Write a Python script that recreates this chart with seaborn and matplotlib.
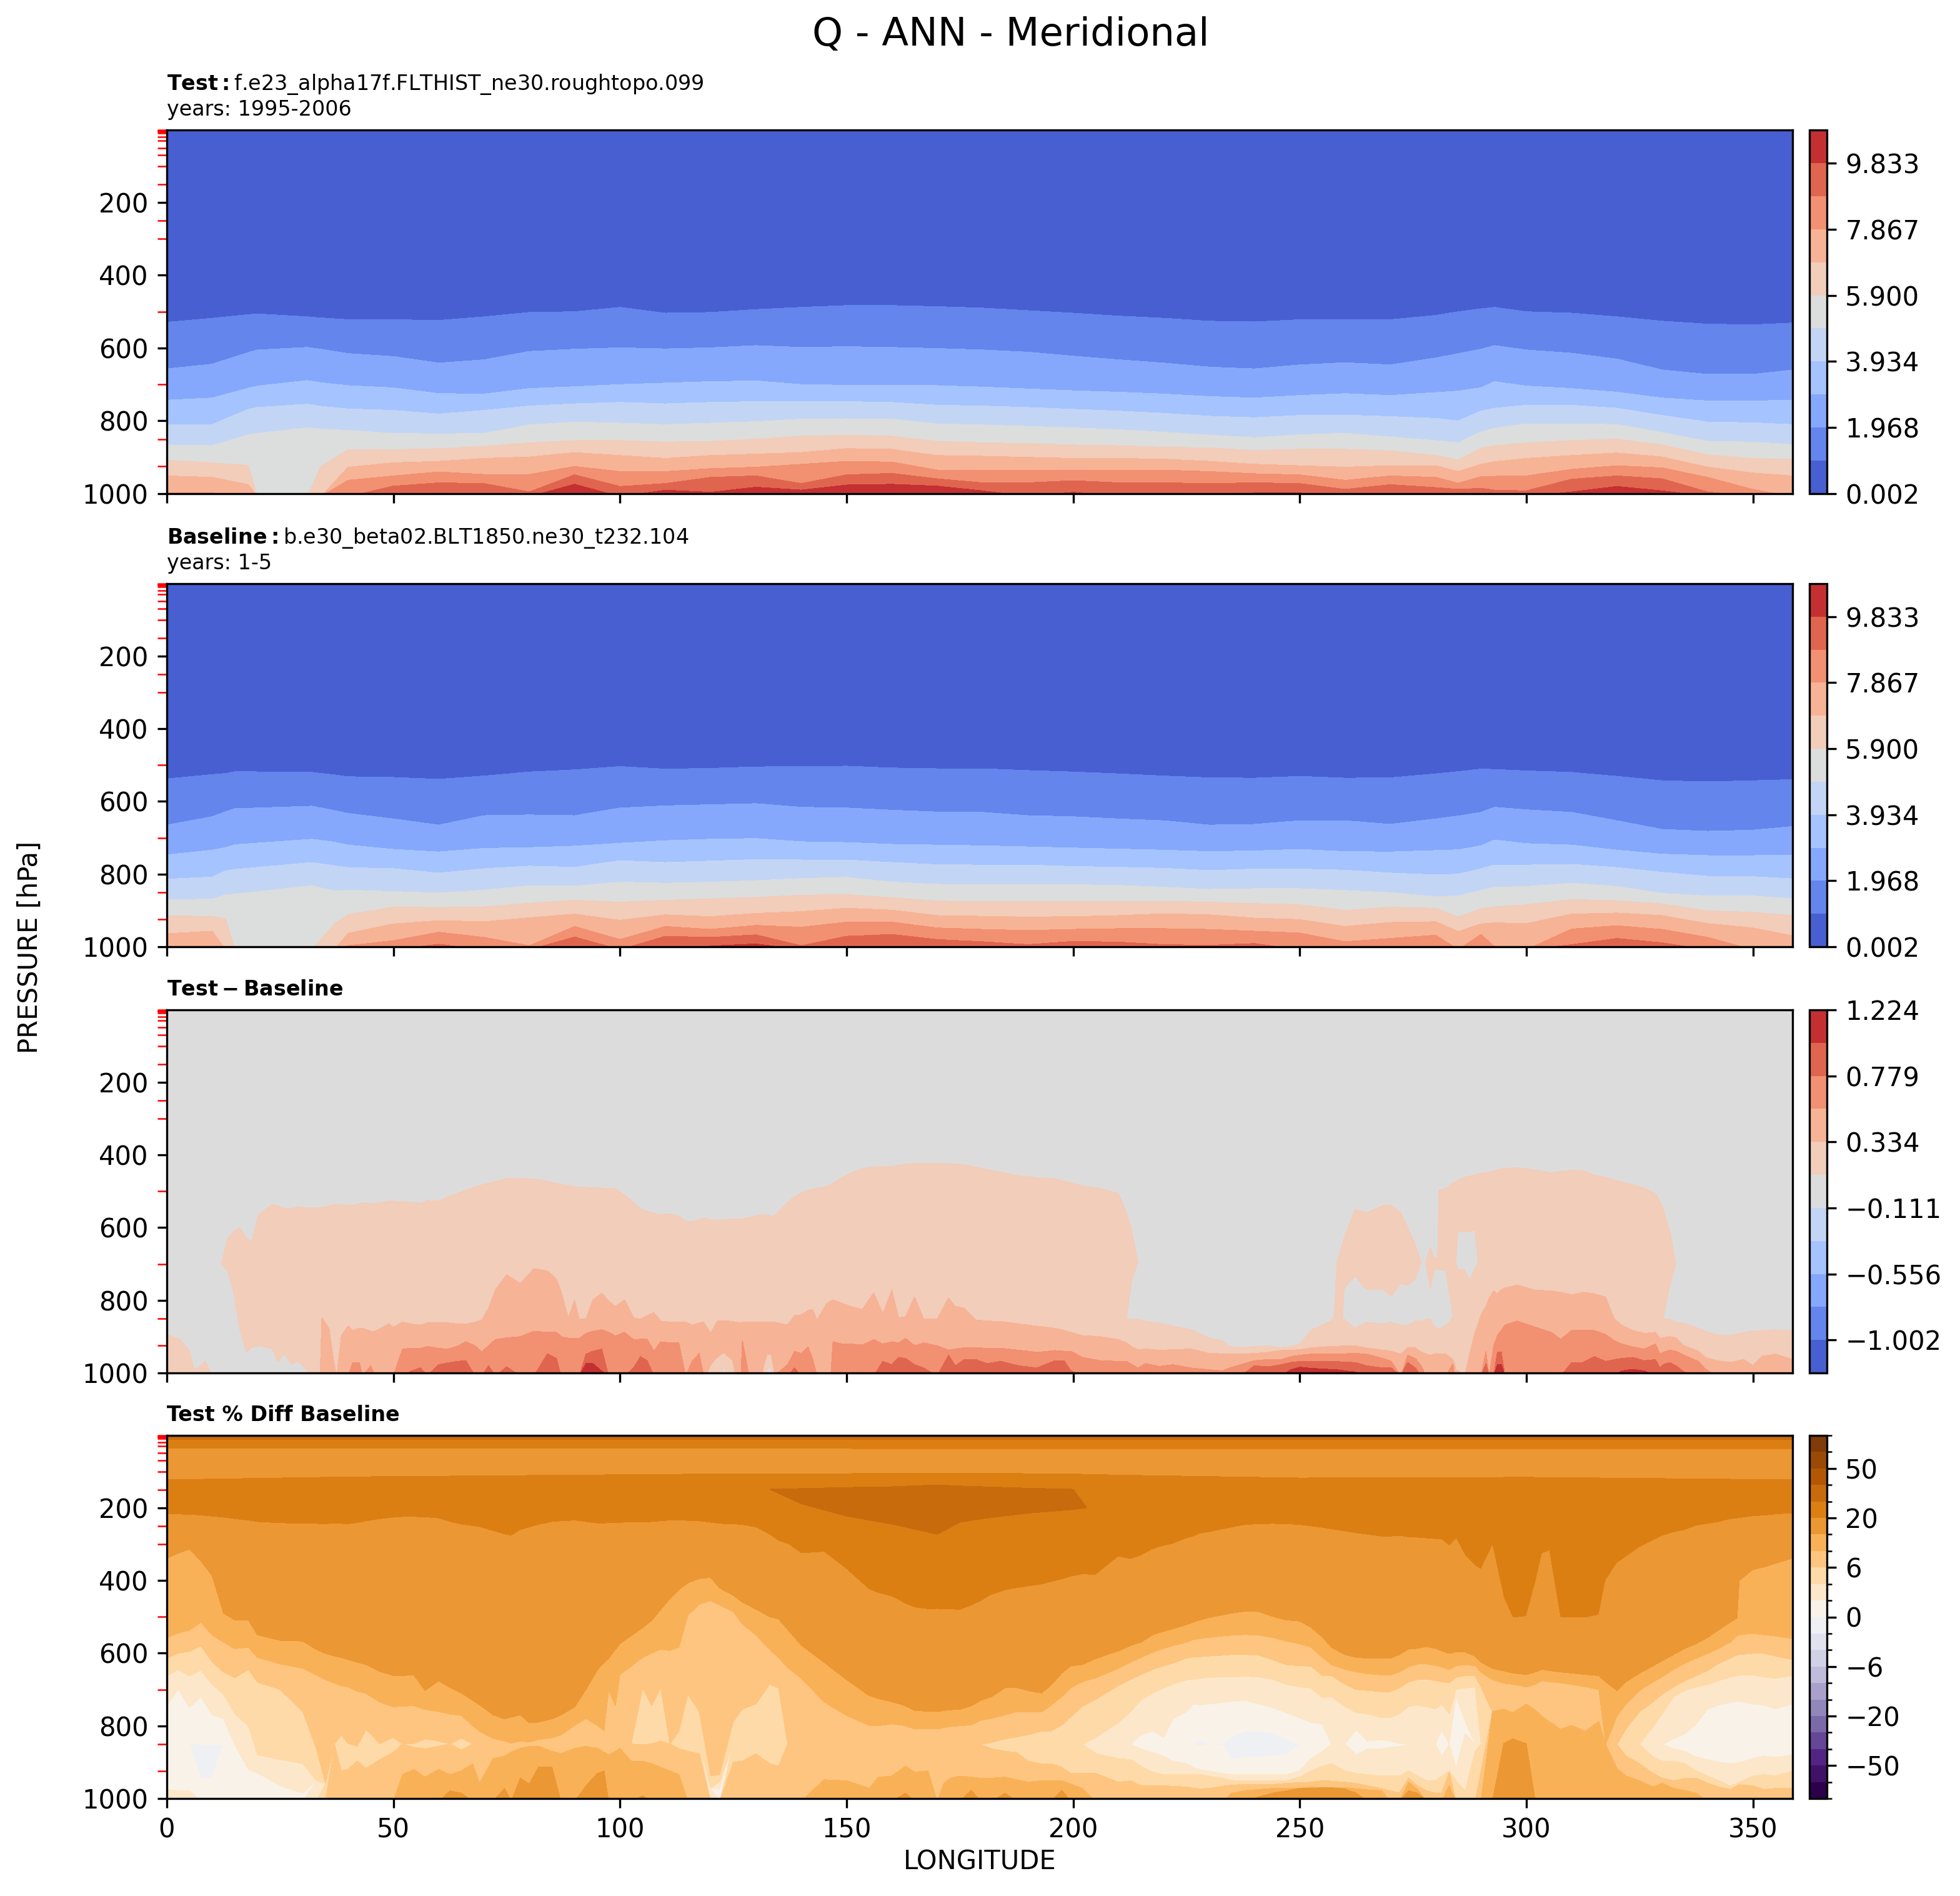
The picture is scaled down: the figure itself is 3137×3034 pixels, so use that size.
import numpy as np
import matplotlib
matplotlib.use("Agg")
import matplotlib.pyplot as plt
from matplotlib.colors import BoundaryNorm
import seaborn as sns

G = 1008  # isoline lies below the 1000 hPa ground
PLEVS = [1000, 925, 850, 700, 500, 300, 250, 200, 150, 100, 70, 50, 30, 20, 10, 7, 5, 3, 2, 1]
XTICKS = [0, 50, 100, 150, 200, 250, 300, 350]
YTICKS = [200, 400, 600, 800, 1000]

Q_LEVELS = [0.002, 0.985, 1.968, 2.951, 3.934, 4.917, 5.900, 6.883, 7.867, 8.850, 9.833, 10.816]
Q_TICK_LABELS = ["0.002", "1.968", "3.934", "5.900", "7.867", "9.833"]
DIFF_LEVELS = [-1.224, -1.002, -0.779, -0.556, -0.334, -0.111, 0.111, 0.334, 0.556, 0.779, 1.002, 1.224]
DIFF_TICK_LABELS = ["\u22121.002", "\u22120.556", "\u22120.111", "0.334", "0.779", "1.224"]
PCT_LEVELS = [-100, -75, -50, -40, -30, -20, -10, -8, -6, -4, -2, 0, 2, 4, 6, 8, 10, 20, 30, 40, 50, 75, 100]
PCT_MAJOR = [-50, -20, -6, 0, 6, 20, 50]

# ---- Test panel: pressure (hPa) where Q crosses each contour level
TEST_LON = [0, 10, 18, 20, 31, 34, *range(40, 290, 10), 285, 290, 293, *range(300, 360, 10), 358.75]
TEST_ISO = [
 [529,518,508,506,514,517,522,522,524,514,502,500,488,504,502,494,488,483,483,486,490,497,504,512,518,526,528,522,522,522,510,500,492,488,500,504,514,526,534,536,531],
 [657,644,612,605,598,603,615,623,641,632,609,603,599,602,599,593,598,596,598,601,605,611,622,632,641,652,657,646,640,646,627,615,603,593,605,614,630,660,672,672,660],
 [743,737,710,704,689,695,703,709,725,726,711,706,700,696,692,690,700,702,702,703,707,712,717,721,726,733,737,730,725,730,722,718,709,692,704,711,721,737,745,745,743],
 [810,810,768,763,754,760,767,771,781,771,759,753,749,753,749,747,747,747,749,757,759,763,768,773,779,787,791,785,784,788,793,800,773,765,757,757,765,785,803,805,810],
 [866,868,838,834,819,822,826,834,836,834,811,803,806,810,806,802,795,794,795,808,811,815,819,824,831,839,846,838,834,844,854,860,830,820,808,808,810,832,856,858,865],
 [908,915,922,G,G,925,879,879,876,870,860,854,854,858,856,850,842,839,842,856,860,862,866,868,872,874,881,878,878,882,895,907,875,868,860,854,850,866,893,903,905],
 [951,955,975,G,G,G,927,915,911,903,899,887,895,903,895,891,887,876,878,895,897,900,903,903,905,911,919,923,927,923,923,939,919,912,903,895,888,899,927,943,951],
 [998,998,G,G,G,G,963,951,940,947,947,925,939,939,931,927,919,911,913,935,935,935,935,935,935,939,945,948,963,951,955,971,953,952,951,933,923,929,955,988,G],
 [G,G,G,G,G,G,G,979,970,972,995,948,980,972,955,951,972,948,944,959,970,970,964,970,970,972,970,972,988,975,983,988,985,990,992,960,951,959,995,G,G],
 [G,G,G,G,G,G,G,G,G,G,G,974,G,990,996,982,990,976,974,979,992,G,996,G,G,G,998,998,G,G,G,G,G,G,G,995,980,992,G,G,G],
]

# ---- Baseline panel
BASE_LON = [0, 10, 13, 15, 32, 37, *range(40, 290, 10), 285, 290, 293, *range(300, 360, 10), 358.75]
BASE_ISO = [
 [538,526,523,518,520,527,532,534,539,530,519,513,504,511,509,505,504,503,508,510,510,515,519,524,530,535,536,531,536,535,524,518,511,512,516,520,531,543,546,543,540],
 [665,642,628,620,613,625,633,648,665,639,637,639,618,612,609,606,616,618,624,629,630,639,642,648,653,665,663,653,653,663,648,640,630,616,623,630,653,677,682,679,669],
 [747,734,727,719,704,712,720,732,739,729,727,723,715,708,704,702,711,713,718,720,722,725,728,731,734,738,736,732,738,739,735,733,722,706,716,720,734,745,749,749,748],
 [814,808,791,787,768,777,782,785,797,785,778,781,763,768,764,760,761,761,768,774,775,775,779,781,784,790,786,786,789,797,802,800,785,775,775,773,782,795,806,807,813],
 [870,869,857,855,832,847,844,848,852,844,832,833,822,825,822,818,812,809,822,828,829,829,829,831,836,842,840,840,845,851,862,860,845,836,834,825,834,853,860,860,868],
 [914,917,923,G,G,937,911,891,892,890,880,872,877,872,868,864,858,856,865,874,876,876,875,875,875,877,881,884,900,891,894,918,895,890,884,870,873,882,901,905,914],
 [964,957,G,G,G,G,963,937,928,931,920,910,927,912,917,908,903,894,899,914,916,918,917,914,909,912,921,925,944,933,931,958,937,934,936,910,907,914,936,948,970],
 [G,G,G,G,G,G,997,983,960,974,997,944,980,944,952,941,946,932,932,948,952,955,952,950,950,952,957,962,986,977,968,G,966,1000,G,951,942,952,974,G,G],
 [G,G,G,G,G,G,G,G,993,G,G,973,G,971,974,967,997,971,966,980,986,994,985,987,994,996,991,G,G,G,G,G,G,G,G,994,977,989,G,G,G],
 [G,G,G,G,G,G,G,G,G,G,G,G,G,G,998,992,G,G,G,G,G,G,G,G,G,G,G,G,G,G,G,G,G,G,G,G,G,G,G,G,G],
]

# ---- Difference panel: lon, then crossing pressures of +0.111, 0.334, 0.556, 0.779, 1.002
DIFF_COLUMNS = [
(0,894),(3,908),(5,940),(6,989),(7,986),(8.5,966),(10,G),(11.5,G),(12,700),(13.4,630),(14.8,610),(16.1,600),(17.5,627),(18.7,640),(20.2,564),(23.3,536),(24.5,540),(26,547),(27.5,548),(29,542),(31,546),(32,546),(33.8,545),
(34.2,544,848),(35.8,540,877),(36.8,537,966),(37.5,536),(38.5,536,897),(40,538,871),(41,538,883,971),(42.5,535,877,971),(43.2,531,877),(45,533,885,980),(46,533,885),(49,527,865),(50,527,874),(52,528,860,934),(54,530,865,932,994),(56,533,868,932,986),(57.5,525,862,927),(60,527,862,932,977),(62,515,862,934,972),(64,506,865,927,968),(66,497,865,914,966),(68,488,860,925),(69.5,483,854,942),(71,477,822,925,980),(72.5,473,771,908),(75,465,730,903,983),(78,465,754,900),(81,466,713,885),(84,472,719,888,947),(86,478,742,888,960),(87,481,776,900),(88.6,484,848,904),(90,487,799,904),(91,488,851,905),(92.5,489,851,891,948,974),(94,490,799,885,940,974),(96,491,781,881,934,995),(97.5,492,802,888),(99,493,817,898),(101,510,799,888),(103,530,848,908,986),(104.5,548,852,907,955),(106,555,842,907,966),(107.5,560,834,940),(109,564,857,914),(111,562,860,917),(113,568,860,917),(114.5,582,860),(116,583,868,966),(117.5,578,862,946),(118.5,573,860),(120,578,891),(121.5,579,857),(124,577,857),(126.7,576,862),(127,576,860,909),(128.5,572,860),(131,564,860),(134,568,860),(137,530,868,977),(138.5,515,842,940,986),(140,505,840,946),(141.5,496,828,928),(142.5,494,825,960),(143.5,491,854),(145.5,487,811),(146.5,480,802),(147,478,799,914),(149,462,808,920),(151,450,817,920),(153.5,437,825,923),(156,433,779,908),(158,432,837,920,968),(160,431,771,914,977),(161.5,428,848,917,957),(163,425,845,905,960),(165,423,791,925,977),(167,423,851,917,986),(170,423,851,925),(172.5,424,794,937,951),(174,424,817,934,980),(176,427,822,930,963),(178.5,433,854,930,963),(181,440,857,932,974),(184,447,858,932,968),(188,457,865,937,980),(192,462,871,943,986),(196,466,877,938,966),(198,472,883,940,966),(199.5,476,888,940,994),(202,485,897,957),(206,492,900,966),(210,505,908,968),(211.8,559,917,968),(213,610,928,977),(214.3,696,936,986),
(216,857,934,974),(219,862,937,982),(222,871,936,977),(226,880,934,986),(230,903,946,991),(233,911,947,994),(234.5,927,947,986),(237,930,948,977),(240,927,946,966,980),(243,925,943,963,983),(246,930,938,963,977),(248,927,937,955,971,991),(250,920,936,951,968,984),(252.5,882,931,948,968,987),(255.5,865,928,948,968,989),(257.5,851,927,948,968,991),(258.2,696,927,948,968,991),(259.5,640,925,947,970,993),(259.8,627,925,947,970,994),(262.2,550,925,946,971,997),(264.7,559,931,948,980),(268.4,539,937,960,986),(270.2,539,940,968,986),(272.3,559,948),(273.8,599,931,951,971),(275.5,645,931,960,986),(276.8,696,943,980),(277.8,696,947),(278.8,653,951),(279.7,685,948),(280.4,679,946),(280.7,496,948),(282.2,493,948),(283.8,476,963,975),(284.2,474,977),(284.5,472,991),(284.9,470,994),(286.4,461),(287.5,458,948),(288.6,455,891),(289.3,452,868),(290,450,840),(291.1,449,817,940,974),(291.8,447,794),(292.8,444,774,925),(293.6,441,782,897,943,977),(294.5,438,771,883,943,977),(295.3,437,766,868),(298,435,758,857),(302,441,772,874),(305.5,449,774,888),(307.6,445,778,907),(310,442,785,883,971),(312.5,443,778,883,971),(315,455,782,883,955),(317.5,461,791,894,968),(319.4,468,851,911,963),(321,474,868,920,960,994),(323.5,482,883,928,957,990),(326,491,891,934,966,994),(328.5,507,888,920,963),(329.5,527,905,947,986),(330.2,547,903,943,977),(331.7,610,900,937,971),(333,699,903,940,980),(334.8,862,925,951,997),(338,877,940,968),(339.5,885,957,989),(342,894,966),(345,897,971),(348,888,963),(350,884,980),(352,883,954),(355,881,948),(358.75,883,963),
]
# grey pockets under the +0.111 line: lon -> (top, bottom)
DIFF_POCKETS = {12:(700,G),13.4:(719,G),14.8:(782,G),16.1:(880,G),17.5:(943,G),18.7:(931,G),20.2:(924,G),23.3:(934,G),24.5:(971,G),26:(948,G),27.5:(977,G),29:(968,G),31:(994,G),32:(1005,1005),
 211.8:(850,850),213:(742,851),214.3:(696,852),
 258.2:(852,852),259.5:(852,852),259.8:(768,852),262.2:(733,877),264.7:(771,860),268.4:(771,865),270.2:(789,860),272.3:(754,868),273.8:(759,868),275.5:(742,857),276.8:(696,857),277.8:(696,852),278.8:(768,851),279.7:(719,871),280.4:(713,877),280.7:(716,880),282.2:(717,868),283.8:(848,848),284.2:(848,848),284.5:(696,696),284.9:(610,716),286.4:(613,716),287.5:(611,743),288.6:(607,713),289.3:(696,696),
 330.2:(851,851),331.7:(759,851),333:(699,860)}
# paler patches on the ground: lon, top of the pale patch, top of its grey core
DIFF_GROUND = [(119.2,G,G),(120,983,G),(121.2,963,G),(122.3,952,G),(123,947,980),(123.6,955,G),(124.7,966,G),(125.3,G,G),(131.4,G,G),(132,975,G),(132.6,951,985),(133.2,951,985),(133.6,975,G),(134,G,G)]

# ---- Percent panel, upper part: lon, 20% line, 20% line, top and bottom of the >30% patch
PCT_UPPER = [(0,36,123,160,160),(40,36,115,160,160),(80,36,111,150,150),(130,37,106,149,149),(133,37,106,149,149),(140,37,106,147,189),(150,37,106,144,223),(160,38,105,142,245),(170,38,105,137,273),(175,38,105,140,240),(180,38,105,142,230),(190,38,106,146,215),(200,38,107,149,205),(203,38,108,200,200),(210,38,110,200,200),(250,38,118,200,200),(300,38,116,200,200),(358.75,38,123,200,200)]
Z2, Z4, Z6, Z8 = (0,)*2, (0,)*4, (0,)*6, (0,)*8
# ---- Percent panel, lower part: lon, 20 line, then 10,8,6,4,2,0 going down and 0,2,4,6,8,10 coming back (0 = level absent)
PCT_COLUMNS = [
(0,218,339,557,615,663,745,0,0,975),(2.5,219,325,545,600,645,700,0,0,978),(5,220,314,537,595,663,750,0,0,978),(7.5,222,346,515,580,647,720,849,944),(10,225,387,550,624,686,770,853,944),(12.5,228,490,570,652,713,780,0,0),(15,232,509,588,668,767,853,0,0),(18,236,509,584,645,800,920,0,0),(20,240,550,612,680,880,930,0,0),(25,243,565,630,700,893,965,0,0),(30,245,567,642,761,904,985,0,0),
(33,245,590,660,863,951,*Z4),(35,246,601,673,958,*Z6),(37,244,608,683,*Z8),(38.5,245,612,690,825,*Z6,924),(40,246,618,693,849,*Z6,920),(42,243,625,705,856,*Z6,897),(44,238,632,711,810,*Z6,917),(47,232,650,735,849,*Z6,893),(50,228,662,748,832,*Z6,873),(52,226,662,746,*Z8,934),(54.5,226,660,745,849,*Z6,859,920),(57,227,703,755,836,*Z6,863,941),(60,230,676,761,842,*Z6,856,920),(62.5,240,695,768,*Z8,934,979),(65,247,710,772,834,*Z6,866,924,985),(67.5,251,730,800,*Z8,904),(69,254,742,815,*Z8,958),(72,265,770,835,*Z8,890),(74.5,274,781,842,*Z8,883,972),(76,278,776,848,*Z8,872),(78,262,770,842,*Z8,862,944),(80,255,792,845,*Z8,856,960),(82,248,790,838,*Z8,856,914),(85,240,781,833,*Z8,870,914),(87,238,770,825,*Z8,876),(90,236,748,799,*Z8,862),(92.5,240,700,780,*Z8,856,965),(95,244,646,799,*Z8,862,931),(96.5,244,626,813,*Z8,872,924),(97.5,243,615,703,*Z8,880),(99,243,590,745,*Z8,870),(100,242,574,659,*Z8,862),(102.5,241,552,636,*Z8,897),(105,241,530,612,695,*Z6,852,897,992),(107,240,510,600,744,*Z6,849,904),(109,238,480,590,695,*Z6,842,914),(111,236,450,593,*Z8,924),(113,235,425,584,815,*Z6,863,934),(115,237,407,496,713,*Z6,870),(117.5,238,395,465,761,*Z6,877),(120,242,392,456,938,971,*Z4),(122,245,421,468,934,954,975,0,0),(125,246,441,486,788,*Z6,900),(127,248,460,520,754,*Z6,897),(130,255,479,550,740,*Z6,877),(133,275,500,590,686,*Z6,904),(135,292,506,612,696,*Z6,911),(137,300,535,640,*Z8),(140,326,578,669,*Z8),(145,322,625,734,*Z8,948),(150,370,673,772,*Z8,951),(155,426,717,799,*Z8,972),(157,435,725,800,*Z8,941),(160,445,734,795,*Z8,938),(163,465,745,800,*Z8,911,985),(165,475,758,809,*Z8,927),(168,480,760,809,*Z8,924),(170,479,761,809,*Z8),
(171.5,480,758,805,*Z8,958),(173,480,756,802,*Z8,944),(175,482,755,800,*Z8,938),(177.5,470,745,798,*Z8,941,977),(179.6,458,730,785,851,*Z6,851,944),(182,440,720,780,846,*Z6,863,944),(185,428,695,770,836,*Z6,870,941,985),(187.5,422,695,761,831,*Z6,873,948),(190,417,703,761,825,*Z6,897,955),(193,412,710,762,815,*Z6,904,951),(195,405,690,745,815,*Z6,904,951),(197.5,398,655,720,798,*Z6,914,951,977),(199.5,390,635,695,775,*Z6,931,960),(202,384,632,679,747,851,*Z4,851,931,972),(205,385,615,668,727,832,*Z4,876,931),(210,335,594,642,689,791,*Z4,890,955),(212.7,342,579,625,672,761,851,*Z2,851,893,951),(215,332,570,612,659,729,825,*Z2,863,911,965),(217.5,315,550,598,645,710,815,*Z2,873,927,965),(220,305,540,587,635,696,832,*Z2,883,934,965),(222,300,533,580,628,686,781,*Z2,897,934,966),(225,285,522,570,614,674,761,*Z2,904,934,968),(226.5,280,515,563,611,672,740,851,851,914,934,972),(228,272,509,560,610,669,743,836,856,920,934,973),(230,268,502,557,608,667,740,851,851,924,938,972),(233,260,495,553,606,666,736,849,853,931,944,966),(235,255,490,551,604,666,733,829,893,934,950,963,985),(238,248,485,549,604,664,730,814,886,934,951,961,978),(241,246,486,551,606,666,740,815,886,934,951,961,975,995),(244,245,499,557,618,672,750,819,883,934,951,961,972,985),(247,246,509,567,632,686,764,836,880,934,951,958,972,979),(250,248,512,574,635,693,778,851,851,924,941,956,972,972),(252.5,252,529,584,636,696,791,*Z2,890,924,955,968,972),(255,256,556,612,662,723,795,*Z2,870,911,951,970,970),(257,260,584,632,662,720,851,*Z2,851,904,952,970,970),(260,266,604,645,686,747,*Z4,924,955,970,974),(262.5,271,612,652,700,764,811,*Z2,880,931,958,973,985),(265,275,614,657,703,767,842,*Z2,863,934,965,976),(268,280,614,660,706,778,839,*Z2,863,938,972,978),(270,280,614,660,706,778,842,*Z2,859,938,979),(272,278,604,652,696,767,849,*Z2,856,938,985),(274,282,589,638,679,747,851,*Z2,851,924,944,955,979),(276,283,587,630,673,743,*Z4,938,965,975,985),(278,285,582,630,672,747,*Z4,951,979),(280,287,587,634,676,754,*Z4,951,985),(281.3,288,594,638,679,740,811,*Z2,883,938,985),(283,305,601,645,682,767,851,*Z2,851,924,927,965),(284.5,286,597,635,666,700,720,*Z2,914,951),(286.5,332,597,632,662,696,788,*Z2,822,979),(288.7,360,608,635,662,694,*Z4,870),(290,370,625,652,693,*Z6,924),(292.5,305,642,673,*Z8,761),(295,448,649,683,*Z8,754,849),(297,503,655,686,*Z8,764,836),(300,499,659,693,*Z8,740,849),(302,407,652,686,*Z8,757),(303.5,326,645,676,*Z8,774),(305,319,648,679,*Z8,788),(307.5,503,652,682,*Z8,809),(310,503,655,686,*Z8,799),(313,503,659,693,*Z8,815),(316,495,662,700,*Z8,788),(317.5,401,679,851,*Z8,851),(320,353,703,774,851,*Z6,851,917),(322,335,679,740,808,*Z6,883,938),(325,309,655,703,761,851,*Z4,851,904,951),(328,290,635,679,734,802,*Z4,886,931,968),(330,278,621,665,713,767,851,*Z2,851,897,944,958),(332.5,268,604,645,693,720,836,*Z2,863,897,951,972),(335,262,587,628,676,703,822,*Z2,870,904,944,978),(337.5,250,574,614,662,693,795,*Z2,886,924,944,985),(340,245,557,601,648,686,754,*Z2,893,938,958),(342.5,240,536,587,628,676,743,*Z2,900,951,968),(345,232,515,570,614,666,736,*Z2,904,965,975),(346.5,230,504,552,605,662,733,*Z2,902,958,965),(347,229,400,550,604,661,733,*Z2,901,955,962),(350,224,370,546,601,660,740,*Z2,890,938,965),(352.5,222,363,550,601,666,743,*Z2,883,934,975),(355,219,353,553,608,669,754,*Z2,886,938,972),(358.75,216,339,560,618,662,740,*Z2,880,924,972),
]

TITLE_TEST = "$\\bf{Test}:$f.e23_alpha17f.FLTHIST_ne30.roughtopo.099\nyears: 1995-2006"
TITLE_BASE = "$\\bf{Baseline}:$b.e30_beta02.BLT1850.ne30_t232.104\nyears: 1-5"
TITLE_DIFF = "$\\bf{Test} - \\bf{Baseline}$"
TITLE_PCT = "Test % Diff Baseline"

sns.set_style("ticks", {"axes.edgecolor": "black", "xtick.color": "black", "ytick.color": "black",
                        "text.color": "black", "axes.labelcolor": "black", "font.family": "DejaVu Sans"})
plt.rcParams["font.family"] = ["DejaVu Sans"]
coolwarm = sns.color_palette("coolwarm", as_cmap=True)
puor = sns.color_palette("PuOr_r", as_cmap=True)

W, H = 3137, 3034
fig = plt.figure(figsize=(W / 300, H / 300), dpi=300)
L, R, CL, CR = 267, 2869, 2896, 2924
BOXES = [(208, 790), (934, 1515), (1616, 2197), (2297, 2878)]


def make_axes(top, bottom):
    ax = fig.add_axes([L / W, 1 - bottom / H, (R - L) / W, (bottom - top) / H])
    cax = fig.add_axes([CL / W, 1 - bottom / H, (CR - CL) / W, (bottom - top) / H])
    return ax, cax


def style(ax, last):
    ax.set_xlim(0, 358.75)
    ax.set_ylim(1000, 1)
    ax.set_xticks(XTICKS)
    ax.set_yticks(YTICKS)
    ax.set_yticks(PLEVS, minor=True)
    ax.tick_params(axis="y", which="minor", color="red", length=3.5, width=0.6)
    ax.tick_params(axis="both", which="major", labelsize=10, length=3.5, width=0.8)
    if not last:
        ax.set_xticklabels([])


def isoline_grid(lons, lines, z_lines, z_top, z_bottom):
    y = np.array(lines, dtype=float)
    n = y.shape[1]
    Y = np.vstack([np.full(n, 1.0), y, np.full(n, 1100.0)])
    z = np.array([z_top, *z_lines, z_bottom])
    Z = np.tile(z[:, None], (1, n))
    X = np.tile(np.array(lons, dtype=float), (Y.shape[0], 1))
    return X, Y, Z


def q_panel(box, lons, lines, title):
    ax, cax = make_axes(*box)
    X, Y, Z = isoline_grid(lons, lines, Q_LEVELS[1:11], 0.5, 10.5)
    cf = ax.contourf(X, Y, Z, levels=Q_LEVELS, cmap=coolwarm, vmin=Q_LEVELS[0], vmax=Q_LEVELS[-1])
    style(ax, False)
    ax.set_title(title, loc="left", fontsize=8, pad=5.5)
    cb = fig.colorbar(cf, cax=cax)
    cb.set_ticks(Q_LEVELS[0:11:2], labels=Q_TICK_LABELS)
    cb.ax.tick_params(labelsize=10, length=3.5, width=0.8)
    cb.minorticks_off()


q_panel(BOXES[0], TEST_LON, TEST_ISO, TITLE_TEST)
q_panel(BOXES[1], BASE_LON, BASE_ISO, TITLE_BASE)

# ---- difference panel
ax, cax = make_axes(*BOXES[2])
rows = [list(r) + [G] * (6 - len(r)) for r in DIFF_COLUMNS]
arr = np.array(rows, dtype=float)
d_lon, pa = arr[:, 0], arr[:, 1]
hb = np.array([DIFF_POCKETS.get(r[0], (r[1], r[1]))[0] for r in rows], dtype=float)
hc = np.array([DIFF_POCKETS.get(r[0], (r[1], r[1]))[1] for r in rows], dtype=float)
lines = [pa, (pa + hb) / 2, hb, (hb + hc) / 2, hc, arr[:, 2], arr[:, 3], arr[:, 4], arr[:, 5]]
X, Y, Z = isoline_grid(d_lon, lines, [0.111, 0.2, 0.111, 0.0, 0.111, 0.334, 0.556, 0.779, 1.002], 0.0, 1.1)
cf = ax.contourf(X, Y, Z, levels=DIFF_LEVELS, cmap=coolwarm, vmin=DIFF_LEVELS[0], vmax=DIFF_LEVELS[-1])
gr = np.array(DIFF_GROUND, dtype=float)
X, Y, Z = isoline_grid(gr[:, 0], [gr[:, 1], gr[:, 1], gr[:, 2], gr[:, 2]], [-5, 0.2, 0.2, 0.0], -5, 0.0)
ax.contourf(X, Y, Z, levels=DIFF_LEVELS[5:8], cmap=coolwarm, vmin=DIFF_LEVELS[0], vmax=DIFF_LEVELS[-1])
style(ax, False)
ax.set_title(TITLE_DIFF, loc="left", fontsize=8, pad=5.5)
cb = fig.colorbar(cf, cax=cax)
cb.set_ticks(DIFF_LEVELS[1::2], labels=DIFF_TICK_LABELS)
cb.ax.tick_params(labelsize=10, length=3.5, width=0.8)
cb.minorticks_off()

# ---- percent panel
ax, cax = make_axes(*BOXES[3])
norm = BoundaryNorm(PCT_LEVELS, 256)
up = np.array(PCT_UPPER, dtype=float)
u_lon, t20, e20, p1, p2 = up.T
n = len(u_lon)
u_lines = [np.full(n, 13.0), t20, (t20 + e20) / 2, e20, (e20 + p1) / 2, p1, (p1 + p2) / 2, p2, p2 + 5]
u_lines.append(np.full(n, 800.0))
X, Y, Z = isoline_grid(u_lon, u_lines, [30, 20, 15, 20, 25, 30, 35, 30, 25, 25], 35, 25)
ax.contourf(X, Y, Z, levels=PCT_LEVELS, cmap=puor, norm=norm)

Y_rows = []
for r in PCT_COLUMNS:
    r = list(r) + [G] * (14 - len(r))
    u, d = np.array(r[2:8], dtype=float), np.array(r[8:14], dtype=float)
    c = np.clip(850.0, u[u > 0].max(), d[d > 0].min() if (d > 0).any() else G)
    u[u == 0] = c
    d[d == 0] = c
    Y_rows.append([r[0], r[1], *u, c, *d])
low = np.array(Y_rows, dtype=float)
low[:, 8] = (low[:, 7] + low[:, 9]) / 2
z_low = [10, 8, 6, 4, 2, 0, -1, 0, 2, 4, 6, 8, 10]
Yl = np.vstack([low[:, 1], low[:, 2:].T, np.full(len(low), 1100.0)])
Zl = np.tile(np.array([20, *z_low, 15], dtype=float)[:, None], (1, len(low)))
Xl = np.tile(low[:, 0], (Yl.shape[0], 1))
cf = ax.contourf(Xl, Yl, Zl, levels=PCT_LEVELS, cmap=puor, norm=norm)
style(ax, True)
ax.set_title(TITLE_PCT, loc="left", fontsize=8, pad=5.5, fontweight="bold")
cb = fig.colorbar(cf, cax=cax)
cb.set_ticks(PCT_MAJOR, labels=["\u221250", "\u221220", "\u22126", "0", "6", "20", "50"])
cb.set_ticks([v for v in PCT_LEVELS if v not in PCT_MAJOR], minor=True)
cb.ax.tick_params(which="major", labelsize=10, length=3.5, width=0.8)
cb.ax.tick_params(which="minor", length=2, width=0.6)

fig.text(1618 / W, 1 - 56 / H, "Q - ANN - Meridional", fontsize=15, ha="center", va="center")
fig.text(1568 / W, 1 - 2980 / H, "LONGITUDE", fontsize=10, ha="center", va="center")
fig.text(48 / W, 1 - 1516 / H, "PRESSURE [hPa]", fontsize=10, ha="center", va="center", rotation=90)

fig.savefig("out.png", dpi=300)
